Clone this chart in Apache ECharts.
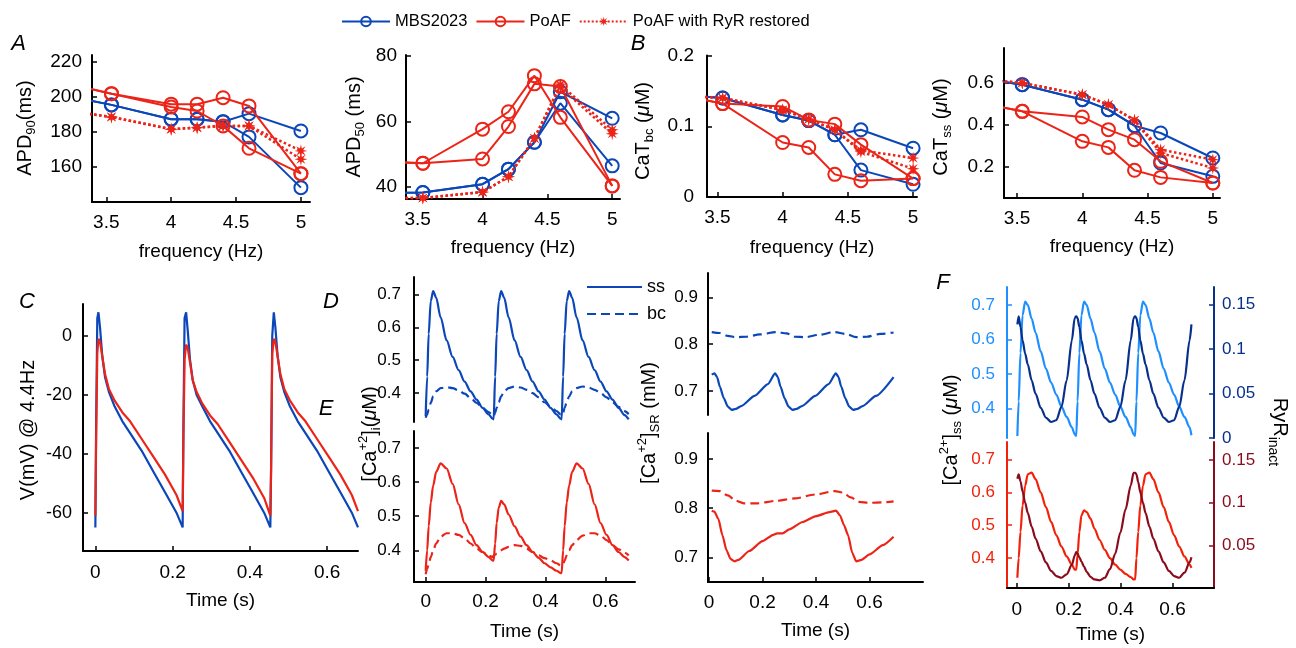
<!DOCTYPE html>
<html><head><meta charset="utf-8">
<script src="https://cdn.jsdelivr.net/npm/echarts@6/dist/echarts.min.js"></script>
<style>html,body{margin:0;padding:0;background:#fff}#c{width:1296px;height:648px}</style>
</head><body><div id="c"></div>
<script>
// ================= DATA =================
// Top row: frequency sweeps (two branches per model where alternans splits values)
const freq = [3.33, 3.54, 4, 4.2, 4.4, 4.6, 5];
const freqTicks = [3.5, 4, 4.5, 5];
const timeTicks = [0, 0.2, 0.4, 0.6];

const apd90_mbs_1  = [198.4, 195.3, 187.1, 187.1, 185.7, 190.3, 180.4];
const apd90_mbs_2  = [198.4, 195.3, 187.1, 187.1, 185.7, 177.0, 148.0];
const apd90_poaf_1 = [205.2, 201.7, 195.7, 195.7, 199.4, 194.7, 156.0];
const apd90_poaf_2 = [205.2, 201.7, 194.1, 191.8, 183.3, 170.5, 156.0];
const apd90_ryr_1  = [190.5, 188.4, 181.4, 182.3, 183.3, 183.3, 169.0];
const apd90_ryr_2  = [190.5, 188.4, 181.4, 182.3, 183.3, 183.3, 164.2];
const apd90Ticks = [160, 180, 200, 220];

const apd50_mbs_1  = [38.3, 38.4, 40.9, 45.5, 53.7, 69.1, 61.0];
const apd50_mbs_2  = [38.3, 38.4, 40.9, 45.5, 53.7, 65.6, 46.5];
const apd50_poaf_1 = [47.6, 47.3, 57.7, 63.0, 74.0, 61.3, 40.4];
const apd50_poaf_2 = [47.6, 47.3, 48.6, 58.5, 71.5, 70.7, 40.4];
const apd50_ryr_1  = [36.7, 36.7, 38.5, 43.2, 54.9, 71.2, 57.5];
const apd50_ryr_2  = [36.7, 36.7, 38.5, 43.2, 54.9, 70.5, 56.3];
const apd50Ticks = [40, 60, 80];

const catbc_mbs_1  = [0.143, 0.140, 0.116, 0.108, 0.088, 0.095, 0.069];
const catbc_mbs_2  = [0.143, 0.140, 0.116, 0.108, 0.088, 0.038, 0.018];
const catbc_poaf_1 = [0.140, 0.132, 0.128, 0.109, 0.103, 0.074, 0.026];
const catbc_poaf_2 = [0.140, 0.132, 0.077, 0.070, 0.032, 0.023, 0.026];
const catbc_ryr_1  = [0.142, 0.140, 0.123, 0.110, 0.095, 0.066, 0.055];
const catbc_ryr_2  = [0.142, 0.140, 0.123, 0.110, 0.095, 0.064, 0.040];
const catbcTicks = [0, 0.1, 0.2];

const catss_mbs_1  = [0.612, 0.592, 0.520, 0.472, 0.395, 0.360, 0.240];
const catss_mbs_2  = [0.612, 0.592, 0.520, 0.472, 0.395, 0.216, 0.152];
const catss_poaf_1 = [0.490, 0.464, 0.437, 0.376, 0.328, 0.224, 0.120];
const catss_poaf_2 = [0.490, 0.464, 0.320, 0.291, 0.181, 0.147, 0.120];
const catss_ryr_1  = [0.612, 0.600, 0.544, 0.496, 0.421, 0.280, 0.232];
const catss_ryr_2  = [0.612, 0.600, 0.544, 0.496, 0.421, 0.264, 0.192];
const catssTicks = [0.2, 0.4, 0.6];

// Panel C: membrane potential at 4.4 Hz
const tC = [0,0.002,0.005,0.008,0.012,0.018,0.025,0.035,0.05,0.07,0.09,0.12,0.15,0.18,0.21,0.226,
  0.228,0.231,0.235,0.239,0.245,0.252,0.262,0.277,0.297,0.317,0.347,0.377,0.407,0.437,0.453,
  0.455,0.458,0.462,0.466,0.472,0.479,0.489,0.504,0.524,0.544,0.574,0.604,0.634,0.664,0.68];
const vMBS = [-65,-30,6,8,3,-7,-14,-19,-24,-29,-33,-39,-46,-53,-60,-65,
  -30,6,8,2,-8,-15,-20,-24,-29,-33,-39,-46,-53,-60,-65,
  -45,0,8,3,-7,-14,-19,-24,-29,-33,-39,-46,-53,-60,-65];
const vPoAF = [-61,-35,-6,-1,-2,-7,-13,-18,-22,-26,-29,-35,-41,-47,-54,-59.5,
  -35,-8,-3,-4,-9,-15,-19,-23,-27,-30,-36,-42,-48,-55,-61,
  -45,-6,-1,-2,-7,-13,-18,-22,-26,-29,-35,-41,-47,-54,-59.5];
const vTicks = [-60, -40, -20, 0];

// Panels D/E left: cytosolic Ca (ss and bc)
const tCa = [0,0.005,0.01,0.017,0.025,0.035,0.05,0.07,0.09,0.11,0.13,0.15,0.17,0.19,0.21,0.224,
  0.227,0.232,0.237,0.244,0.252,0.262,0.277,0.297,0.317,0.337,0.357,0.377,0.397,0.417,0.437,0.451,
  0.454,0.459,0.464,0.471,0.479,0.489,0.504,0.524,0.544,0.564,0.584,0.604,0.624,0.644,0.664,0.678];
const caSS_mbs = [0.33,0.45,0.58,0.68,0.71,0.69,0.63,0.56,0.51,0.47,0.435,0.405,0.38,0.355,0.335,0.322,
  0.32,0.45,0.58,0.68,0.71,0.69,0.63,0.56,0.51,0.47,0.435,0.405,0.38,0.355,0.335,0.322,
  0.32,0.45,0.58,0.68,0.71,0.69,0.63,0.56,0.51,0.47,0.435,0.405,0.38,0.355,0.333,0.32];
const caBC_mbs = [0.325,0.335,0.35,0.37,0.39,0.405,0.415,0.418,0.415,0.408,0.398,0.385,0.37,0.355,0.342,0.333,
  0.33,0.34,0.355,0.372,0.39,0.405,0.415,0.42,0.417,0.41,0.4,0.387,0.372,0.358,0.345,0.335,
  0.332,0.34,0.355,0.372,0.39,0.405,0.415,0.42,0.417,0.41,0.4,0.387,0.372,0.358,0.345,0.336];
const caSS_poaf = [0.34,0.40,0.47,0.54,0.59,0.63,0.655,0.64,0.595,0.535,0.48,0.445,0.415,0.395,0.38,0.37,
  0.37,0.42,0.48,0.525,0.545,0.535,0.505,0.47,0.44,0.415,0.395,0.378,0.362,0.35,0.34,0.333,
  0.333,0.40,0.47,0.54,0.59,0.63,0.655,0.64,0.595,0.535,0.48,0.445,0.415,0.395,0.38,0.37];
const caBC_poaf = [0.33,0.345,0.36,0.38,0.4,0.42,0.44,0.45,0.45,0.445,0.435,0.42,0.405,0.395,0.385,0.38,
  0.385,0.387,0.39,0.395,0.4,0.405,0.41,0.415,0.413,0.405,0.395,0.385,0.377,0.37,0.362,0.355,
  0.355,0.36,0.37,0.385,0.4,0.415,0.43,0.443,0.45,0.45,0.443,0.43,0.415,0.403,0.393,0.385];
const caTicks = [0.4, 0.5, 0.6, 0.7];

// Panels D/E right: SR Ca
const tSR_mbs = [0.01,0.02,0.03,0.04,0.055,0.07,0.085,0.1,0.12,0.17,0.22,0.247,0.257,0.267,0.282,0.297,0.312,0.327,0.347,0.397,0.447,0.474,0.484,0.494,0.509,0.524,0.539,0.554,0.574,0.624,0.69];
const srSS_mbs = [0.735,0.738,0.73,0.71,0.685,0.667,0.66,0.662,0.668,0.69,0.715,0.738,0.73,0.71,0.685,0.667,0.66,0.662,0.668,0.69,0.715,0.738,0.73,0.71,0.685,0.667,0.66,0.662,0.668,0.69,0.73];
const tSRbc_mbs = [0.01,0.04,0.07,0.1,0.14,0.19,0.25,0.29,0.32,0.36,0.41,0.47,0.51,0.55,0.59,0.64,0.69];
const srBC_mbs = [0.826,0.824,0.818,0.815,0.816,0.821,0.826,0.823,0.816,0.815,0.82,0.826,0.822,0.815,0.816,0.822,0.825];
const tSR_poaf = [0.01,0.02,0.035,0.05,0.065,0.08,0.095,0.11,0.15,0.2,0.24,0.255,0.275,0.3,0.35,0.4,0.45,0.475,0.49,0.505,0.52,0.535,0.55,0.57,0.6,0.65,0.69];
const srSS_poaf = [0.795,0.793,0.778,0.745,0.715,0.697,0.692,0.695,0.713,0.733,0.746,0.749,0.749,0.757,0.772,0.784,0.792,0.795,0.785,0.765,0.745,0.71,0.692,0.695,0.706,0.725,0.742];
const tSRbc_poaf = [0.01,0.04,0.07,0.1,0.13,0.18,0.25,0.32,0.4,0.47,0.5,0.53,0.56,0.6,0.65,0.69];
const srBC_poaf = [0.836,0.835,0.826,0.815,0.81,0.81,0.815,0.82,0.828,0.835,0.832,0.822,0.813,0.811,0.812,0.814];
const srTicks = [0.7, 0.8, 0.9];

// Panel F: subspace Ca and RyR inactivation
const tF = [0.002,0.007,0.014,0.022,0.032,0.042,0.057,0.072,0.092,0.112,0.132,0.152,0.172,0.192,0.212,0.223,
  0.229,0.234,0.241,0.249,0.259,0.269,0.284,0.299,0.319,0.339,0.359,0.379,0.399,0.419,0.439,0.45,
  0.456,0.461,0.468,0.476,0.486,0.496,0.511,0.526,0.546,0.566,0.586,0.606,0.626,0.646,0.666,0.673];
const fCa_mbs = [0.32,0.42,0.56,0.67,0.71,0.70,0.66,0.62,0.565,0.515,0.475,0.44,0.405,0.375,0.345,0.325,
  0.32,0.42,0.56,0.67,0.71,0.70,0.66,0.62,0.565,0.515,0.475,0.44,0.405,0.375,0.345,0.325,
  0.32,0.42,0.56,0.67,0.71,0.70,0.66,0.62,0.565,0.515,0.475,0.44,0.405,0.375,0.345,0.322];
const fRyR_mbs = [0.128,0.137,0.125,0.11,0.095,0.083,0.065,0.05,0.034,0.023,0.018,0.02,0.035,0.065,0.11,0.135,
  0.137,0.135,0.125,0.11,0.095,0.083,0.065,0.05,0.034,0.023,0.018,0.02,0.035,0.065,0.11,0.135,
  0.137,0.135,0.125,0.11,0.095,0.083,0.065,0.05,0.034,0.023,0.018,0.02,0.035,0.065,0.11,0.128];
const fCa_poaf = [0.34,0.40,0.48,0.56,0.62,0.655,0.66,0.64,0.6,0.555,0.51,0.47,0.435,0.405,0.38,0.365,
  0.365,0.41,0.48,0.53,0.545,0.54,0.52,0.49,0.455,0.425,0.4,0.38,0.365,0.352,0.342,0.335,
  0.335,0.40,0.48,0.56,0.62,0.655,0.66,0.64,0.6,0.555,0.51,0.47,0.435,0.405,0.38,0.37];
const fRyR_poaf = [0.128,0.133,0.125,0.113,0.1,0.088,0.072,0.058,0.043,0.03,0.02,0.014,0.012,0.016,0.027,0.038,
  0.042,0.04,0.036,0.031,0.025,0.019,0.013,0.01,0.009,0.012,0.022,0.04,0.065,0.092,0.12,0.135,
  0.135,0.133,0.124,0.112,0.1,0.088,0.072,0.058,0.043,0.03,0.02,0.014,0.012,0.018,0.03,0.036];
const fRyRTicksTop = [0, 0.05, 0.1, 0.15];
const fRyRTicksBot = [0.05, 0.1, 0.15];

// ================= STYLE / LAYOUT =================
const FONT = '"Liberation Sans", Arial, Helvetica, sans-serif';
const BLUE = '#0b47b8', RED = '#ec2418';
const LBLUE = '#1e8fff', NAVY = '#06308c', FRED = '#f2220a', DRED = '#8a0c1c';

const canvas = document.createElement('canvas');
const ctx = canvas.getContext('2d');
function measure(t, fs, it) { ctx.font = (it ? 'italic ' : '') + fs + 'px ' + FONT; return ctx.measureText(t).width; }
function rotText(parts, cx, cy, rot, color) {
  const ws = parts.map(p => measure(p.t, p.fs, p.it));
  const W = ws.reduce((a, b) => a + b, 0);
  const dx = Math.cos(rot), dy = -Math.sin(rot), nx = Math.sin(rot), ny = Math.cos(rot);
  let s = -W / 2; const out = [];
  parts.forEach((p, i) => {
    const o = p.dy || 0;
    out.push({ type: 'text', silent: true, x: cx + dx * s + nx * o, y: cy + dy * s + ny * o, rotation: rot,
      style: { text: p.t, fill: color || '#000', font: (p.it ? 'italic ' : '') + p.fs + 'px ' + FONT, align: 'left', verticalAlign: 'middle' } });
    s += ws[i];
  });
  return out;
}
const N = 20, S = 13;
const UP = Math.PI / 2;

const grids = [
  { left: 92, top: 55, width: 218, height: 147 },    // 0 A APD90
  { left: 406, top: 55, width: 214, height: 144 },   // 1 APD50
  { left: 707, top: 55.5, width: 210, height: 141.5 }, // 2 CaT bc
  { left: 1004, top: 48, width: 216, height: 150 },  // 3 CaT ss
  { left: 83, top: 304, width: 275, height: 247 },   // 4 C
  { left: 414, top: 277, width: 221, height: 145 },  // 5 D left top
  { left: 414, top: 431, width: 221, height: 151 },  // 6 E left bottom
  { left: 708, top: 273, width: 215, height: 142 },  // 7 D right top
  { left: 708, top: 433, width: 215, height: 149 },  // 8 E right bottom
  { left: 1007, top: 287, width: 207, height: 151 }, // 9 F top
  { left: 1007, top: 442, width: 207, height: 146 }  // 10 F bottom
].map(g => Object.assign({ outerBoundsMode: 'none', containLabel: false }, g));

function xAx(gi, min, max, o) {
  o = o || {};
  if (o.hidden) return { type: 'value', gridIndex: gi, min, max, show: false };
  return { type: 'value', gridIndex: gi, min, max,
    axisLine: { show: true, onZero: false, lineStyle: { color: '#000', width: 2 } },
    axisTick: { show: true, inside: true, length: 5, customValues: o.ticks, lineStyle: { color: '#000', width: 1.5 } },
    axisLabel: { customValues: o.ticks, fontSize: o.fs || 19, color: '#000', fontFamily: FONT, margin: o.margin || 11 },
    splitLine: { show: false },
    name: o.name || '', nameLocation: 'middle', nameGap: o.gap || 39,
    nameTextStyle: { fontSize: o.nfs || 19, color: '#000', fontFamily: FONT } };
}
function yAx(gi, min, max, o) {
  const c = o.color || '#000';
  return { type: 'value', gridIndex: gi, min, max, position: o.pos || 'left',
    axisLine: { show: true, onZero: false, lineStyle: { color: o.lineColor || c, width: 2 } },
    axisTick: { show: true, inside: true, length: 5, customValues: o.ticks, lineStyle: { color: o.lineColor || c, width: 1.5 } },
    axisLabel: { customValues: o.ticks, fontSize: o.fs || 17, color: c, fontFamily: FONT, margin: o.margin || 10 },
    splitLine: { show: false } };
}

const xAxes = [
  xAx(0, 3.39, 5.07, { ticks: freqTicks, name: 'frequency (Hz)', gap: 40 }),
  xAx(1, 3.41, 5.06, { ticks: freqTicks, name: 'frequency (Hz)', gap: 39 }),
  xAx(2, 3.42, 5.03, { ticks: freqTicks, name: 'frequency (Hz)', gap: 41 }),
  xAx(3, 3.40, 5.055, { ticks: freqTicks, name: 'frequency (Hz)', gap: 39 }),
  xAx(4, -0.032, 0.68, { ticks: timeTicks, name: 'Time (s)', gap: 40, margin: 12 }),
  xAx(5, -0.039, 0.699, { hidden: true }),
  xAx(6, -0.039, 0.699, { ticks: timeTicks, name: 'Time (s)', gap: 40, margin: 10 }),
  xAx(7, -0.004, 0.8, { hidden: true }),
  xAx(8, -0.004, 0.8, { ticks: timeTicks, name: 'Time (s)', gap: 39, margin: 11 }),
  xAx(9, -0.038, 0.76, { hidden: true }),
  xAx(10, -0.038, 0.76, { ticks: timeTicks, name: 'Time (s)', gap: 37, margin: 12 })
];
const yAxes = [
  yAx(0, 139.8, 223.8, { ticks: apd90Ticks, fs: 19, margin: 10 }),
  yAx(1, 36.4, 80.3, { ticks: apd50Ticks, fs: 19, margin: 9 }),
  yAx(2, 0, 0.2, { ticks: catbcTicks, fs: 19, margin: 13 }),
  yAx(3, 0.048, 0.768, { ticks: catssTicks, fs: 19, margin: 10 }),
  yAx(4, -73, 10.8, { ticks: vTicks, fs: 18, margin: 11 }),
  yAx(5, 0.312, 0.753, { ticks: caTicks, margin: 13 }),
  yAx(6, 0.307, 0.75, { ticks: caTicks, margin: 13 }),
  yAx(7, 0.649, 0.952, { ticks: srTicks, margin: 10 }),
  yAx(8, 0.65, 0.953, { ticks: srTicks, margin: 10 }),
  yAx(9, 0.314, 0.752, { ticks: caTicks, color: LBLUE, margin: 12 }),
  yAx(9, 0, 0.17, { ticks: fRyRTicksTop, color: NAVY, pos: 'right', margin: 8 }),
  yAx(10, 0.309, 0.753, { ticks: caTicks, color: FRED, margin: 12 }),
  yAx(10, 0, 0.171, { ticks: fRyRTicksBot, color: DRED, pos: 'right', margin: 8 })
];

// asterisk-like star marker
let star = 'path://';
for (let k = 0; k < 16; k++) {
  const a = k * Math.PI / 8 - Math.PI / 2, r = k % 2 === 0 ? 50 : 19;
  star += (k === 0 ? 'M' : 'L') + (50 + r * Math.cos(a)).toFixed(2) + ' ' + (50 + r * Math.sin(a)).toFixed(2) + ' ';
}
star += 'Z';

const pairs = (xs, ys) => xs.map((x, i) => [x, ys[i]]);
const series = [];
function topSet(gi, m1, m2, p1, p2, r1, r2) {
  [m1, m2].forEach(d => series.push({ name: 'MBS2023', type: 'line', xAxisIndex: gi, yAxisIndex: gi, data: pairs(freq, d),
    symbol: 'circle', symbolSize: 13, lineStyle: { color: BLUE, width: 2 },
    itemStyle: { color: 'rgba(255,255,255,0)', borderColor: BLUE, borderWidth: 2 }, z: 2 }));
  [p1, p2].forEach(d => series.push({ name: 'PoAF', type: 'line', xAxisIndex: gi, yAxisIndex: gi, data: pairs(freq, d),
    symbol: 'circle', symbolSize: 13, lineStyle: { color: RED, width: 2 },
    itemStyle: { color: 'rgba(255,255,255,0)', borderColor: RED, borderWidth: 2 }, z: 3 }));
  [r1, r2].forEach(d => series.push({ name: 'PoAF with RyR restored', type: 'line', xAxisIndex: gi, yAxisIndex: gi, data: pairs(freq, d),
    symbol: star, symbolSize: 13, lineStyle: { color: RED, width: 2.5, type: 'dotted' },
    itemStyle: { color: RED, borderWidth: 0 }, z: 4 }));
}
topSet(0, apd90_mbs_1, apd90_mbs_2, apd90_poaf_1, apd90_poaf_2, apd90_ryr_1, apd90_ryr_2);
topSet(1, apd50_mbs_1, apd50_mbs_2, apd50_poaf_1, apd50_poaf_2, apd50_ryr_1, apd50_ryr_2);
topSet(2, catbc_mbs_1, catbc_mbs_2, catbc_poaf_1, catbc_poaf_2, catbc_ryr_1, catbc_ryr_2);
topSet(3, catss_mbs_1, catss_mbs_2, catss_poaf_1, catss_poaf_2, catss_ryr_1, catss_ryr_2);

function trace(name, xi, yi, data, color, o) {
  o = o || {};
  series.push({ name, type: 'line', xAxisIndex: xi, yAxisIndex: yi, data, symbol: 'none', showSymbol: false,
    smooth: o.smooth === undefined ? 0.3 : o.smooth, smoothMonotone: 'x',
    lineStyle: { color, width: o.w || 2.2, type: o.dash || 'solid' }, itemStyle: { color }, z: o.z || 2 });
}
trace('V MBS2023', 4, 4, pairs(tC, vMBS), BLUE, { smooth: false });
trace('V PoAF', 4, 4, pairs(tC, vPoAF), RED, { smooth: false, z: 3 });
trace('ss', 5, 5, pairs(tCa, caSS_mbs), BLUE);
trace('bc', 5, 5, pairs(tCa, caBC_mbs), BLUE, { dash: [9, 5] });
trace('Cai ss PoAF', 6, 6, pairs(tCa, caSS_poaf), RED);
trace('Cai bc PoAF', 6, 6, pairs(tCa, caBC_poaf), RED, { dash: [9, 5] });
trace('SR ss MBS', 7, 7, pairs(tSR_mbs, srSS_mbs), BLUE, { smooth: 0.2 });
trace('SR bc MBS', 7, 7, pairs(tSRbc_mbs, srBC_mbs), BLUE, { dash: [9, 5] });
trace('SR ss PoAF', 8, 8, pairs(tSR_poaf, srSS_poaf), RED, { smooth: 0.2 });
trace('SR bc PoAF', 8, 8, pairs(tSRbc_poaf, srBC_poaf), RED, { dash: [9, 5] });
trace('Cass MBS', 9, 9, pairs(tF, fCa_mbs), LBLUE);
trace('RyR MBS', 9, 10, pairs(tF, fRyR_mbs), NAVY, { z: 3 });
trace('Cass PoAF', 10, 11, pairs(tF, fCa_poaf), FRED);
trace('RyR PoAF', 10, 12, pairs(tF, fRyR_poaf), DRED, { z: 3 });

// ---- text: axis names with sub/superscripts and panel letters ----
let graphic = [];
graphic = graphic.concat(
  rotText([{ t: 'APD', fs: N }, { t: '90', fs: S, dy: 6 }, { t: '(ms)', fs: N }], 25, 128, UP),
  rotText([{ t: 'APD', fs: N }, { t: '50', fs: S, dy: 6 }, { t: ' (ms)', fs: N }], 354, 127, UP),
  rotText([{ t: 'CaT', fs: N }, { t: 'bc', fs: S, dy: 6 }, { t: ' (', fs: N }, { t: 'μ', fs: N, it: true }, { t: 'M)', fs: N }], 643, 131, UP),
  rotText([{ t: 'CaT', fs: N }, { t: 'ss', fs: S, dy: 6 }, { t: ' (', fs: N }, { t: 'μ', fs: N, it: true }, { t: 'M)', fs: N }], 941, 127, UP),
  rotText([{ t: 'V(mV) @ 4.4Hz', fs: N }], 28, 430, UP),
  rotText([{ t: '[Ca', fs: N }, { t: '+2', fs: S, dy: -7 }, { t: ']', fs: N }, { t: 'i', fs: S, dy: 6 }, { t: '(', fs: N }, { t: 'μ', fs: N, it: true }, { t: 'M)', fs: N }], 370, 434, UP),
  rotText([{ t: '[Ca', fs: N }, { t: '+2', fs: S, dy: -7 }, { t: ']', fs: N }, { t: 'SR', fs: S, dy: 6 }, { t: ' (mM)', fs: N }], 649, 423, UP),
  rotText([{ t: '[Ca', fs: N }, { t: '2+', fs: S, dy: -7 }, { t: ']', fs: N }, { t: 'ss', fs: S, dy: 6 }, { t: ' (', fs: N }, { t: 'μ', fs: N, it: true }, { t: 'M)', fs: N }], 951, 430, UP),
  rotText([{ t: 'RyR', fs: N }, { t: 'inact', fs: S + 1, dy: 7 }], 1280, 432, -UP)
);
[['A', 18.5, 43.5], ['B', 638, 44], ['C', 27, 302], ['D', 331, 302], ['E', 326, 409], ['F', 943, 283]].forEach(([t, x, y]) => {
  graphic.push({ type: 'text', silent: true, x, y, style: { text: t, fill: '#000', font: 'italic 22px ' + FONT, align: 'center', verticalAlign: 'middle' } });
});

const chart = echarts.init(document.getElementById('c'), null, { renderer: 'canvas' });
chart.setOption({
  animation: false,
  backgroundColor: '#fff',
  textStyle: { fontFamily: FONT },
  grid: grids,
  xAxis: xAxes,
  yAxis: yAxes,
  legend: [
    { data: ['MBS2023', 'PoAF', 'PoAF with RyR restored'], left: 336, top: 8, itemWidth: 48, itemHeight: 12, itemGap: 8,
      textStyle: { fontSize: 16.5, color: '#000', fontFamily: FONT }, selectedMode: false },
    { data: ['ss', 'bc'], orient: 'vertical', left: 581, top: 273, itemWidth: 55, itemHeight: 14, itemGap: 9,
      itemStyle: { color: 'rgba(0,0,0,0)', borderWidth: 0 },
      textStyle: { fontSize: 18, color: '#000', fontFamily: FONT }, selectedMode: false }
  ],
  series,
  graphic
});
</script>
</body></html>
